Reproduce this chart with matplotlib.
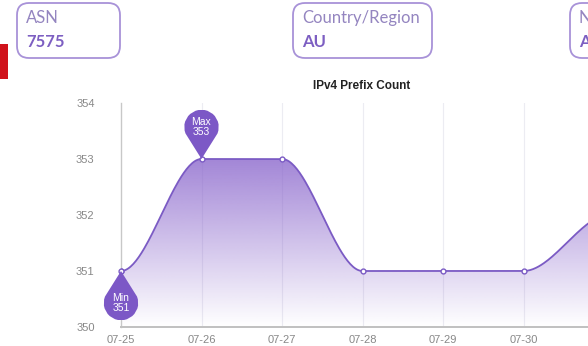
import matplotlib
matplotlib.use('Agg')
import numpy as np
import matplotlib.pyplot as plt
import matplotlib.transforms as mtransforms
from matplotlib.patches import FancyBboxPatch, PathPatch, Rectangle
from matplotlib.path import Path

# chart data
dates = ['07-25', '07-26', '07-27', '07-28', '07-29', '07-30', '07-31']
prefix_count = [351, 353, 353, 351, 351, 351, 352]
y_ticks = [350, 351, 352, 353, 354]
title = 'IPv4 Prefix Count'

# info cards across the top
card_labels = ['ASN', 'Country/Region', 'Name']
card_values = ['7575', 'AU', 'AARNet']

LINE = '#7b5bc4'
PIN = '#7c58c6'
W, H = 588, 346

fig = plt.figure(figsize=(W / 100, H / 100), dpi=100)
px = mtransforms.Affine2D().scale(1 / W, -1 / H).translate(0, 1) + fig.transFigure

# --- cards ---
card_x = [17, 293, 570]
card_w = [103, 139, 80]
for cx, cw, lab, val in zip(card_x, card_w, card_labels, card_values):
    box = FancyBboxPatch((cx, 3), cw, 55, boxstyle='round,pad=0,rounding_size=12',
                         transform=px, facecolor='white', edgecolor='#a892d8',
                         linewidth=1.3)
    fig.patches.append(box)
    fig.text(cx + 9, 18, lab, transform=px, fontsize=12, color='#9485c0',
             family='Lato', va='center', ha='left')
    fig.text(cx + 9, 42, val, transform=px, fontsize=12, color='#7d5fc2',
             family='Lato', weight='bold', va='center', ha='left')

# red tab at the left edge
fig.patches.append(Rectangle((0, 44), 8, 35, transform=px, facecolor='#d0121b',
                             edgecolor='none'))

fig.text(362, 86, title, transform=px, fontsize=8.5, weight='bold', color='#222',
         family='Liberation Sans', ha='center', va='center')

# --- chart ---
ax = fig.add_axes([121 / W, (H - 327) / H, (W - 121) / W, (327 - 103) / H])
x = np.arange(len(dates))
y = np.array(prefix_count, dtype=float)

# monotone cubic smoothing for the drawn line
slopes = np.zeros(len(y))
for i in range(len(y)):
    if i == 0:
        slopes[i] = 0
    elif i == len(y) - 1:
        slopes[i] = (y[i] - y[i - 1]) * 0.4
    else:
        a, b = y[i] - y[i - 1], y[i + 1] - y[i]
        slopes[i] = 0 if a * b <= 0 else (a + b) / 2
xs, ys = [], []
for i in range(len(y) - 1):
    t = np.linspace(0, 1, 60)
    h00 = 2 * t**3 - 3 * t**2 + 1
    h10 = t**3 - 2 * t**2 + t
    h01 = -2 * t**3 + 3 * t**2
    h11 = t**3 - t**2
    xs.append(x[i] + t)
    ys.append(h00 * y[i] + h10 * slopes[i] + h01 * y[i + 1] + h11 * slopes[i + 1])
xs = np.concatenate(xs)
ys = np.concatenate(ys)

xmax = (W - 121) / 80.5

# gradient fill under the curve
grad = np.linspace(0, 1, 256)[:, None]
rgba = np.zeros((256, 1, 4))
rgba[..., :3] = matplotlib.colors.to_rgb('#8a66cc')
rgba[..., 3] = grad * 0.95
img = ax.imshow(rgba, extent=[0, x[-1], 350, 353.6], origin='lower', aspect='auto',
                zorder=1)
clip = Path(np.vstack([np.column_stack([xs, ys]), [[xs[-1], 350], [xs[0], 350]]]))
img.set_clip_path(PathPatch(clip, transform=ax.transData))

ax.plot(xs, ys, color=LINE, lw=1.3, zorder=3)
ax.plot(x, y, 'o', ms=3.5, mfc='white', mec=LINE, mew=1, zorder=4)
ax.plot(x[:1], y[:1], 'o', ms=3.5, mfc='white', mec=LINE, mew=1, zorder=4,
        clip_on=False)

for xi in x[1:]:
    ax.axvline(xi, color='#ececf2', lw=0.8, zorder=0.5)

ax.set_xlim(0, xmax)
ax.set_ylim(350, 354)
ax.set_xticks(x[:-1])
ax.set_xticklabels(dates[:-1])
ax.set_yticks(y_ticks)
ax.tick_params(length=0, labelsize=8, colors='#888', pad=6)
for lbl in ax.get_xticklabels() + ax.get_yticklabels():
    lbl.set_family('Liberation Sans')
ax.tick_params(axis='y', pad=19)
for s in ['top', 'right']:
    ax.spines[s].set_visible(False)
ax.spines['left'].set_color('#c8c8c8')
ax.spines['bottom'].set_color('#c0c0c0')
ax.spines['left'].set_linewidth(1)
ax.spines['bottom'].set_linewidth(1.4)


def pin(xd, yd, up, text):
    # balloon pin in inches, tip at the data point
    r, d = 0.17, 0.32
    ang = np.degrees(np.arccos(r / d))
    if up:
        cy, base = d, -90
    else:
        cy, base = -d, 90
    arc = Path.arc(base + ang, base + 360 - ang)
    verts = arc.vertices * r + [0, cy]
    verts = np.vstack([[0, 0], verts, [0, 0]])
    codes = [Path.MOVETO] + [Path.LINETO] * (len(verts) - 2) + [Path.CLOSEPOLY]
    trans = fig.dpi_scale_trans + mtransforms.ScaledTranslation(xd, yd, ax.transData)
    ax.add_patch(PathPatch(Path(verts, codes), transform=trans, facecolor=PIN,
                           edgecolor='none', zorder=5, clip_on=False))
    ax.text(0, cy, text, transform=trans, ha='center', va='center', color='white',
            fontsize=7.5, family='Liberation Sans', linespacing=0.95, zorder=6)


imax = int(np.argmax(y))
imin = int(np.argmin(y))
pin(x[imax], y[imax], True, 'Max\n%d' % y[imax])
pin(x[imin], y[imin], False, 'Min\n%d' % y[imin])

fig.savefig('out.png', dpi=100)
